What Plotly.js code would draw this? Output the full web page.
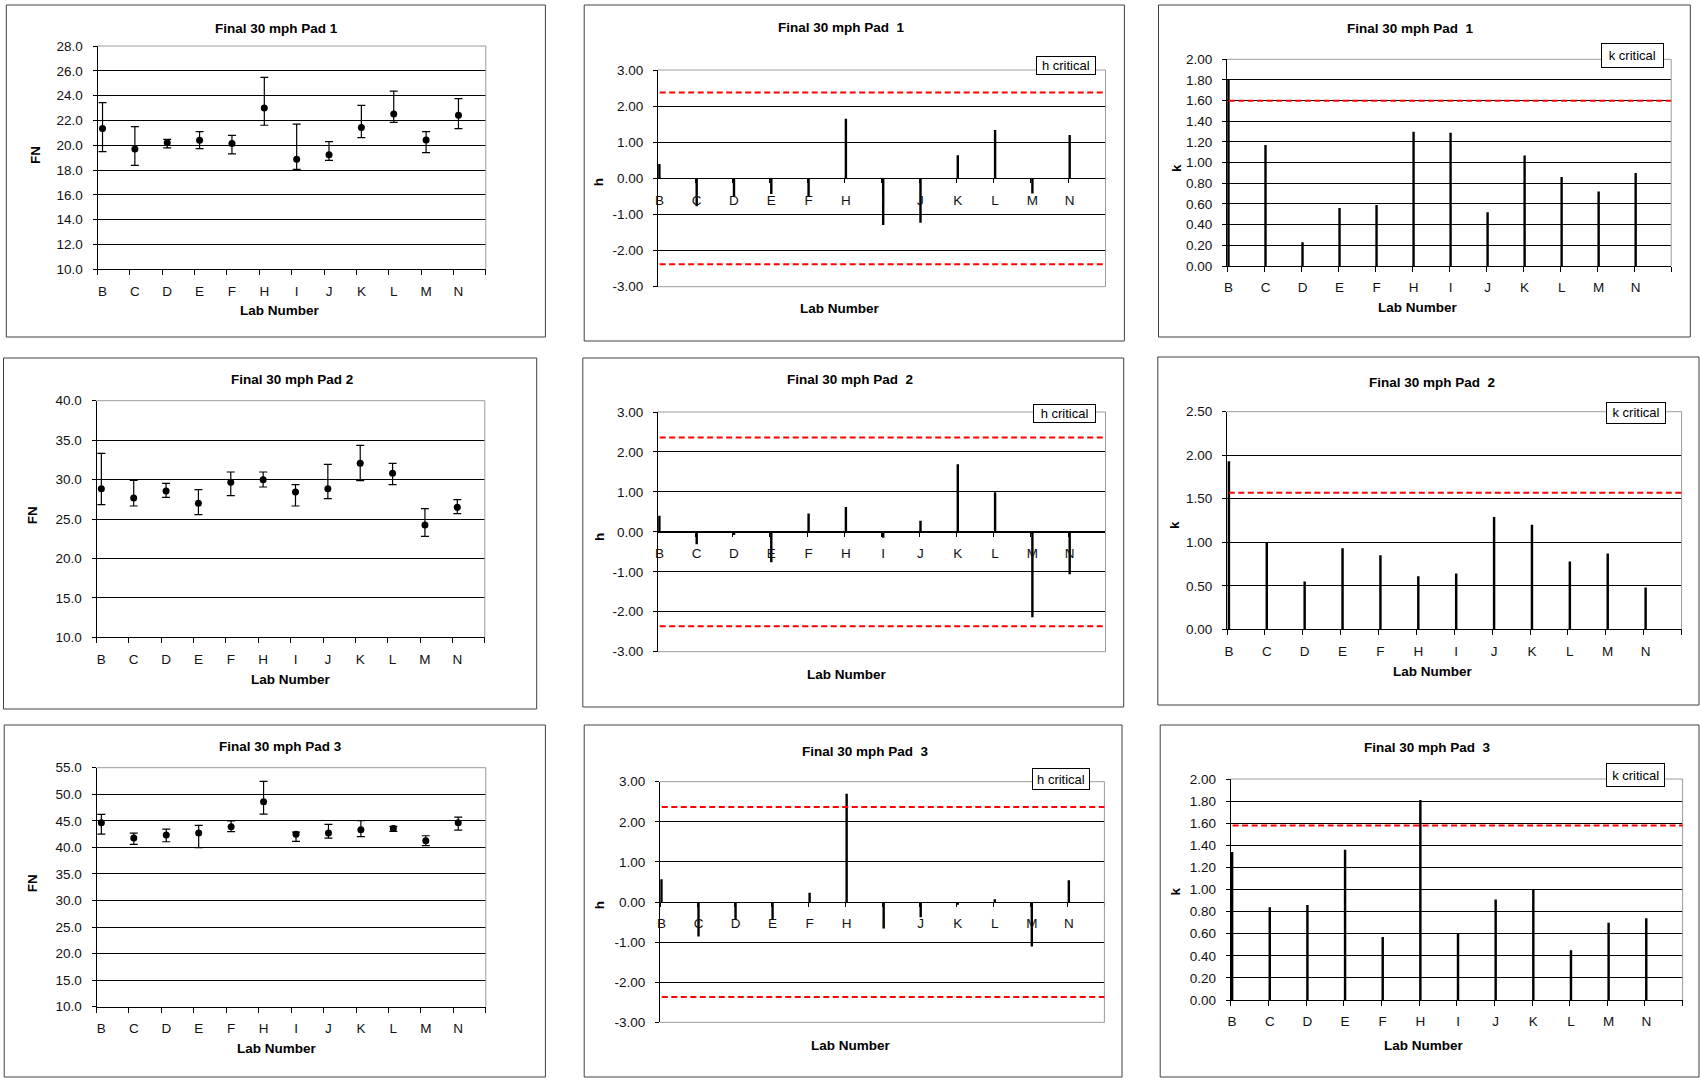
<!DOCTYPE html>
<html><head><meta charset="utf-8">
<script src="https://cdn.plot.ly/plotly-3.0.1.min.js"></script>
<style>html,body{margin:0;padding:0;background:#fff}#chart{width:1700px;height:1078px}</style>
</head><body><div id="chart"></div>
<script>
// ---------------- data ----------------
const labs = ['B','C','D','E','F','H','I','J','K','L','M','N'];

// FN means and error-bar ends (upper / lower), per pad
const fn1   = [21.34, 19.70, 20.21, 20.40, 20.15, 23.00, 18.87, 19.24, 21.44, 22.52, 20.42, 22.41];
const fn1Hi = [23.43, 21.50, 20.48, 21.10, 20.80, 25.47, 21.71, 20.29, 23.22, 24.37, 21.10, 23.76];
const fn1Lo = [19.48, 18.38, 19.78, 19.73, 19.30, 21.61, 18.06, 18.78, 20.61, 21.85, 19.40, 21.34];

const fn2   = [28.85, 27.66, 28.55, 26.99, 29.65, 29.99, 28.42, 28.85, 32.06, 30.79, 24.24, 26.48];
const fn2Hi = [33.32, 29.90, 29.52, 28.72, 30.96, 30.96, 29.35, 31.93, 34.34, 32.06, 26.31, 27.45];
const fn2Lo = [26.82, 26.65, 27.75, 25.55, 27.96, 29.06, 26.65, 27.58, 29.86, 29.35, 22.80, 25.68];

const fn3   = [44.64, 41.75, 42.32, 42.70, 43.89, 48.60, 42.45, 42.70, 43.32, 43.57, 41.25, 44.64];
const fn3Hi = [46.21, 42.70, 43.45, 44.14, 44.96, 52.43, 42.88, 44.33, 45.02, 43.95, 42.19, 45.71];
const fn3Lo = [42.51, 40.56, 41.06, 39.93, 42.95, 46.27, 41.13, 41.75, 42.01, 43.01, 40.31, 43.26];

// Mandel's h
const h1 = [0.40, -0.77, -0.51, -0.43, -0.51, 1.65, -1.29, -1.23, 0.64, 1.34, -0.42, 1.20];
const h2 = [0.40, -0.31, -0.08, -0.76, 0.46, 0.62, -0.15, 0.28, 1.69, 0.99, -2.14, -1.06];
const h3 = [0.57, -0.86, -0.45, -0.45, 0.23, 2.70, -0.66, -0.38, -0.07, 0.07, -1.11, 0.54];

// Mandel's k
const k1 = [1.80, 1.17, 0.23, 0.56, 0.59, 1.30, 1.29, 0.52, 1.07, 0.86, 0.72, 0.90];
const k2 = [1.93, 1.00, 0.55, 0.93, 0.85, 0.61, 0.64, 1.29, 1.20, 0.78, 0.87, 0.48];
const k3 = [1.34, 0.84, 0.86, 1.36, 0.57, 1.81, 0.60, 0.91, 1.00, 0.45, 0.70, 0.74];

// critical values
const hCrit = [2.38, 2.36, 2.37];
const kCrit = [1.60, 1.57, 1.58];

// titles
const padTitles = ['Final 30 mph Pad 1', 'Final 30 mph Pad 2', 'Final 30 mph Pad 3'];
const padTitlesHK = ['Final 30 mph Pad  1', 'Final 30 mph Pad  2', 'Final 30 mph Pad  3'];

// axis tick values
const fnTicks1 = [10, 12, 14, 16, 18, 20, 22, 24, 26, 28];
const fnTicks2 = [10, 15, 20, 25, 30, 35, 40];
const fnTicks3 = [10, 15, 20, 25, 30, 35, 40, 45, 50, 55];
const hTicks   = [-3, -2, -1, 0, 1, 2, 3];
const kTicks1  = [0, 0.2, 0.4, 0.6, 0.8, 1.0, 1.2, 1.4, 1.6, 1.8, 2.0];
const kTicks2  = [0, 0.5, 1.0, 1.5, 2.0, 2.5];
const kTicks3  = [0, 0.2, 0.4, 0.6, 0.8, 1.0, 1.2, 1.4, 1.6, 1.8, 2.0];

// ---------------- layout geometry (px) ----------------
const W = 1700, H = 1078;
const FONT = 'Arial, "Liberation Sans", sans-serif';
const px = x => x / W;
const py = y => 1 - y / H;

const panels = [
  {type:'fn', pad:0, box:[6.3,545.4,5,337],     plot:[97.5,485.8,46,269.3],   title:[276.4,28], xt:[279.9,310], yt:[35.1,155],  off:0.155},
  {type:'h',  pad:0, box:[584.2,1124.4,5,341],  plot:[657.9,1105.5,70,286.7], title:[841.3,27], xt:[839.6,308], yt:[599.3,182], off:0.04, leg:[1036,1095.6,56,75]},
  {type:'k',  pad:0, box:[1158.5,1690.3,5,337], plot:[1227,1671.2,59.3,266],  title:[1410.5,28], xt:[1418,307], yt:[1175.9,168], off:0.04, leg:[1601,1663.5,43,68]},
  {type:'fn', pad:1, box:[3.5,536.7,358,709],   plot:[96.5,484.8,400.7,637.3], title:[291.8,380], xt:[291.1,679], yt:[32.3,515], off:0.15},
  {type:'h',  pad:1, box:[582.8,1123.7,358,707], plot:[657.9,1105.5,412,651.7], title:[850,380], xt:[847.3,674], yt:[599.3,536.7], off:0.04, leg:[1032.5,1095.6,404,423]},
  {type:'k',  pad:1, box:[1157.8,1699,357,705], plot:[1227,1681.6,411.7,629.3], title:[1432,382], xt:[1433,671.7], yt:[1174,525], off:0.05, leg:[1606,1666,401.7,423.3]},
  {type:'fn', pad:2, box:[4.2,545.4,725,1077],  plot:[96.5,485.8,767.7,1006.7], title:[280.6,746], xt:[277.1,1048], yt:[32.3,883], off:0.15},
  {type:'h',  pad:2, box:[584.2,1122,725,1077], plot:[660,1104.4,781.7,1022.3], title:[865.9,751], xt:[850.8,1045], yt:[599.3,905], off:0.04, leg:[1032.5,1090.4,768,790]},
  {type:'k',  pad:2, box:[1160.2,1699,725,1077], plot:[1230.8,1682.6,779,1000], title:[1427.9,747], xt:[1424.4,1045], yt:[1175.9,891.7], off:0.035, leg:[1605.8,1665.2,763,787]}
];

const fnData = [[fn1,fn1Hi,fn1Lo],[fn2,fn2Hi,fn2Lo],[fn3,fn3Hi,fn3Lo]];
const fnTicks = [fnTicks1, fnTicks2, fnTicks3];
const hData = [h1, h2, h3];
const kData = [k1, k2, k3];
const kTicks = [kTicks1, kTicks2, kTicks3];

const idx = labs.map((_, i) => i);
const traces = [];
const layout = {
  width: W, height: H,
  margin: {l:0, r:0, t:0, b:0},
  paper_bgcolor: '#ffffff', plot_bgcolor: '#ffffff',
  showlegend: false,
  font: {family: FONT, color: '#000'},
  shapes: [], annotations: []
};

const tickFont = {family: FONT, size: 13.5, color: '#111'};
const boldFont = {family: FONT, size: 13.5, color: '#000', weight: 'bold'};

panels.forEach((p, i) => {
  const n = i + 1;
  const sfx = n === 1 ? '' : String(n);
  const xa = 'x' + sfx, ya = 'y' + sfx;
  const xDom = [px(p.plot[0]), px(p.plot[1])];
  const yDom = [py(p.plot[3]), py(p.plot[2])];

  let yRange, yTv, yTt;
  if (p.type === 'fn') {
    yTv = fnTicks[p.pad];
    yRange = [yTv[0], yTv[yTv.length - 1]];
    yTt = yTv.map(v => v.toFixed(1));
    const [m, hi, lo] = fnData[p.pad];
    traces.push({
      type: 'scatter', mode: 'markers', x: idx, y: m, xaxis: xa, yaxis: ya,
      marker: {color: '#000', size: 7},
      error_y: {type: 'data', symmetric: false,
        array: hi.map((v, j) => v - m[j]), arrayminus: lo.map((v, j) => m[j] - v),
        color: '#000', thickness: 1.2, width: 4},
      hoverinfo: 'skip'
    });
  } else if (p.type === 'h') {
    yTv = hTicks;
    yRange = [-3, 3];
    yTt = yTv.map(v => v.toFixed(2));
    traces.push({type: 'bar', x: idx, y: hData[p.pad], xaxis: xa, yaxis: ya, width: 0.065,
      marker: {color: '#000', line: {width: 0}}, hoverinfo: 'skip'});
  } else {
    yTv = kTicks[p.pad];
    yRange = [yTv[0], yTv[yTv.length - 1]];
    yTt = yTv.map(v => v.toFixed(2));
    traces.push({type: 'bar', x: idx, y: kData[p.pad], xaxis: xa, yaxis: ya, width: 0.065,
      marker: {color: '#000', line: {width: 0}}, hoverinfo: 'skip'});
  }

  const xAxis = {
    domain: xDom, range: [-p.off, 12 - p.off],
    tickmode: 'array', tickvals: idx, ticktext: labs, ticks: '',
    tickfont: tickFont, ticklabelstandoff: 9,
    showline: true, linecolor: '#000', linewidth: 1,
    showgrid: false, zeroline: false, fixedrange: true,
    minor: {ticks: 'outside', ticklen: 5, tickwidth: 1, tickcolor: '#000',
            tickmode: 'linear', tick0: -p.off, dtick: 1, showgrid: false}
  };
  if (p.type === 'h') {
    const frac = (0 - yRange[0]) / (yRange[1] - yRange[0]);
    xAxis.anchor = 'free';
    xAxis.position = yDom[0] + frac * (yDom[1] - yDom[0]);
    xAxis.minor.ticklen = 4;
  } else {
    xAxis.anchor = ya;
  }
  const yAxis = {
    domain: yDom, range: yRange, anchor: xa,
    tickmode: 'array', tickvals: yTv, ticktext: yTt,
    ticks: 'outside', ticklen: 4, tickwidth: 1, tickcolor: '#000',
    tickfont: tickFont, ticklabelstandoff: 7,
    showline: true, linecolor: '#000', linewidth: 1,
    showgrid: true, gridcolor: '#000', gridwidth: 1,
    zeroline: false, fixedrange: true
  };
  layout['xaxis' + sfx] = xAxis;
  layout['yaxis' + sfx] = yAxis;

  // panel border
  layout.shapes.push({type: 'rect', xref: 'paper', yref: 'paper',
    x0: px(p.box[0]), x1: px(p.box[1]), y0: py(p.box[3]), y1: py(p.box[2]),
    line: {color: '#404040', width: 1}, fillcolor: 'rgba(0,0,0,0)', layer: 'below'});

  // gray plot-area border (top, right, and bottom for h)
  const gray = {color: '#9a9a9a', width: 1};
  layout.shapes.push({type: 'line', xref: xa + ' domain', yref: ya + ' domain', x0: 0, x1: 1, y0: 1, y1: 1, line: gray, layer: 'above'});
  layout.shapes.push({type: 'line', xref: xa + ' domain', yref: ya + ' domain', x0: 1, x1: 1, y0: 0, y1: 1, line: gray, layer: 'above'});
  if (p.type === 'h') {
    layout.shapes.push({type: 'line', xref: xa + ' domain', yref: ya + ' domain', x0: 0, x1: 1, y0: 0, y1: 0, line: gray, layer: 'above'});
  }

  // critical lines
  const red = {color: '#ff0000', width: 2, dash: '6px,3.5px'};
  if (p.type === 'h') {
    [hCrit[p.pad], -hCrit[p.pad]].forEach(v => layout.shapes.push({type: 'line',
      xref: xa + ' domain', yref: ya, x0: 0.004, x1: 1, y0: v, y1: v, line: red, layer: 'above'}));
  } else if (p.type === 'k') {
    layout.shapes.push({type: 'line', xref: xa + ' domain', yref: ya,
      x0: 0.004, x1: 1, y0: kCrit[p.pad], y1: kCrit[p.pad], line: red, layer: 'above'});
  }

  // titles
  layout.annotations.push({xref: 'paper', yref: 'paper', x: px(p.title[0]), y: py(p.title[1]),
    xanchor: 'center', yanchor: 'middle', showarrow: false,
    text: p.type === 'fn' ? padTitles[p.pad] : padTitlesHK[p.pad], font: boldFont});
  layout.annotations.push({xref: 'paper', yref: 'paper', x: px(p.xt[0]), y: py(p.xt[1]),
    xanchor: 'center', yanchor: 'middle', showarrow: false, text: 'Lab Number', font: boldFont});
  layout.annotations.push({xref: 'paper', yref: 'paper', x: px(p.yt[0]), y: py(p.yt[1]),
    xanchor: 'center', yanchor: 'middle', showarrow: false, textangle: -90,
    text: p.type === 'fn' ? 'FN' : p.type, font: boldFont});

  // legend box
  if (p.leg) {
    const bw = p.leg[1] - p.leg[0], bh = p.leg[3] - p.leg[2];
    layout.annotations.push({xref: 'paper', yref: 'paper',
      x: px((p.leg[0] + p.leg[1]) / 2), y: py((p.leg[2] + p.leg[3]) / 2),
      xanchor: 'center', yanchor: 'middle', showarrow: false,
      text: p.type + ' critical', font: {family: FONT, size: 13, color: '#000'},
      bgcolor: '#ffffff', bordercolor: '#000', borderwidth: 1, borderpad: 2,
      width: bw - 6, height: bh - 6, align: 'center'});
  }
});

Plotly.newPlot('chart', traces, layout, {displayModeBar: false, staticPlot: true});
</script>
</body></html>
